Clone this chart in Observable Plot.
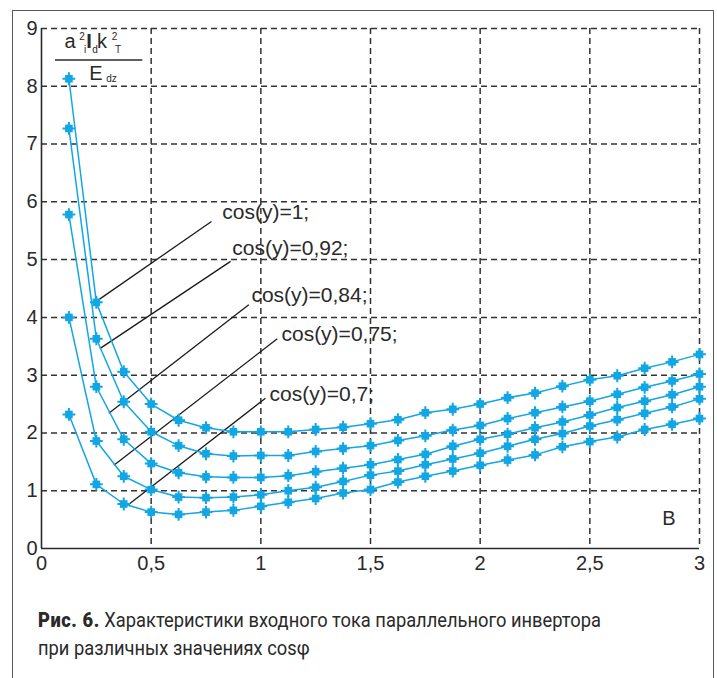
<!DOCTYPE html>
<html>
<head>
<meta charset="utf-8">
<script src="https://cdn.jsdelivr.net/npm/d3@7"></script>
<script src="https://cdn.jsdelivr.net/npm/@observablehq/plot@0.6"></script>
<style>
  html, body { margin: 0; padding: 0; background: #fff; width: 717px; height: 678px; overflow: hidden; }
  #frame { position: absolute; left: 12px; top: 10px; width: 702px; height: 720px; border: 1.5px solid #5a5a5a; box-sizing: border-box; }
  #chart { position: absolute; left: 0; top: 0; }
  #caption { position: absolute; left: 38px; top: 606px; font-family: "Roboto", "Liberation Sans", sans-serif; font-size: 20px; line-height: 28px; color: #2a2a2a; white-space: nowrap; transform: scaleX(0.915); transform-origin: 0 0; }
  #caption b { font-weight: 900; letter-spacing: 0.6px; }
</style>
</head>
<body>
<div id="frame"></div>
<div id="chart"></div>
<div id="caption"><b>Рис. 6.</b> Характеристики входного тока параллельного инвертора<br>при различных значениях cosφ</div>
<script>
// ---- data ----
const xs = [0.125, 0.25, 0.375, 0.5, 0.625, 0.75, 0.875, 1.0, 1.125, 1.25, 1.375, 1.5,
            1.625, 1.75, 1.875, 2.0, 2.125, 2.25, 2.375, 2.5, 2.625, 2.75, 2.875, 3.0];
const seriesNames = ["cos(y)=1;", "cos(y)=0,92;", "cos(y)=0,84;", "cos(y)=0,75;", "cos(y)=0,7;"];
const s1 = [8.13, 4.26, 3.06, 2.50, 2.22, 2.09, 2.02, 2.02, 2.02, 2.06, 2.10, 2.16,
            2.23, 2.35, 2.41, 2.50, 2.61, 2.69, 2.81, 2.92, 2.99, 3.12, 3.23, 3.36];
const s2 = [7.27, 3.63, 2.54, 2.02, 1.78, 1.64, 1.60, 1.61, 1.61, 1.68, 1.73, 1.78,
            1.87, 1.95, 2.05, 2.13, 2.25, 2.35, 2.45, 2.55, 2.67, 2.79, 2.90, 3.02];
const s3 = [5.78, 2.80, 1.89, 1.47, 1.31, 1.24, 1.23, 1.23, 1.26, 1.33, 1.39, 1.45,
            1.54, 1.63, 1.77, 1.89, 1.98, 2.09, 2.19, 2.31, 2.44, 2.55, 2.66, 2.80];
const s4 = [4.00, 1.86, 1.25, 1.02, 0.89, 0.88, 0.89, 0.93, 1.00, 1.06, 1.16, 1.27,
            1.34, 1.45, 1.55, 1.65, 1.77, 1.89, 1.99, 2.12, 2.23, 2.34, 2.45, 2.59];
const s5 = [2.32, 1.11, 0.77, 0.63, 0.59, 0.63, 0.66, 0.73, 0.80, 0.865, 0.96, 1.02,
            1.15, 1.25, 1.34, 1.44, 1.53, 1.62, 1.76, 1.85, 1.93, 2.06, 2.15, 2.25];
const xTicks = [0, 0.5, 1, 1.5, 2, 2.5, 3];
const xTickLabels = ["0", "0,5", "1", "1,5", "2", "2,5", "3"];
const yTicks = [0, 1, 2, 3, 4, 5, 6, 7, 8, 9];
const yTickLabels = ["0", "1", "2", "3", "4", "5", "6", "7", "8", "9"];
// label positions (data units) and leader lines
const labelX = [0.824, 0.870, 0.957, 1.094, 1.040];
const labelY = [5.82, 5.19, 4.39, 3.70, 2.67];
const leadX1 = [0.775, 0.862, 0.945, 1.075, 1.021];
const leadY1 = [5.66, 4.97, 4.22, 3.63, 2.60];
const leadX2 = [0.255, 0.266, 0.307, 0.330, 0.397];
const leadY2 = [4.29, 3.46, 2.34, 1.44, 0.76];
const unitLabel = "В";

// ---- build tables ----
const allSeries = [s1, s2, s3, s4, s5];
const pts = [];
allSeries.forEach((s, k) => s.forEach((v, i) => pts.push({x: xs[i], y: v, name: seriesNames[k]})));
const labels = seriesNames.map((n, i) => ({name: n, x: labelX[i], y: labelY[i]}));
const leaders = seriesNames.map((n, i) => ({x1: leadX1[i], y1: leadY1[i], x2: leadX2[i], y2: leadY2[i]}));

const blue = "#12a6e4";
const ink = "#2a2a2a";
const grid = "#333333";
const fmtX = d => xTickLabels[xTicks.indexOf(d)];
const fmtY = d => yTickLabels[yTicks.indexOf(d)];

const chart = Plot.plot({
  width: 717,
  height: 585,
  marginLeft: 41,
  marginRight: 18,
  marginTop: 28,
  marginBottom: 37,
  style: {fontFamily: "'Liberation Sans', Arial, sans-serif", color: ink, background: "transparent"},
  x: {domain: [0, 3]},
  y: {domain: [0, 9]},
  marks: [
    Plot.gridX(xTicks.filter(d => d > 0), {stroke: grid, strokeOpacity: 1, strokeWidth: 1.5, strokeDasharray: "6,4"}),
    Plot.gridY(yTicks.filter(d => d > 0), {stroke: grid, strokeOpacity: 1, strokeWidth: 1.5, strokeDasharray: "6,4"}),
    Plot.ruleX([0], {stroke: ink, strokeWidth: 1.6}),
    Plot.ruleY([0], {stroke: ink, strokeWidth: 1.6}),
    Plot.axisX(xTicks, {tickSize: 0, tickPadding: 7, fontSize: 20, tickFormat: fmtX, fill: ink}),
    Plot.axisY(yTicks, {tickSize: 0, tickPadding: 4, fontSize: 20, tickFormat: fmtY, fill: ink}),
    Plot.link(leaders, {x1: "x1", y1: "y1", x2: "x2", y2: "y2", stroke: "#1a1a1a", strokeWidth: 1.3}),
    Plot.line(pts, {x: "x", y: "y", z: "name", stroke: blue, strokeWidth: 1.5}),
    Plot.dot(pts, {x: "x", y: "y", symbol: "square", r: 4.3, fill: blue, stroke: "none"}),
    Plot.dot(pts, {x: "x", y: "y", symbol: "plus", r: 4.2, stroke: blue, strokeWidth: 2}),
    Plot.text(labels, {x: "x", y: "y", text: "name", textAnchor: "start", lineAnchor: "middle", fontSize: 21, fill: ink}),
    Plot.text([unitLabel], {x: [2.83], y: [0.51], text: d => d, textAnchor: "start", lineAnchor: "middle", fontSize: 20, fill: ink})
  ]
});
document.getElementById("chart").appendChild(chart);

// ---- y-axis quantity label (fraction) ----
const sx = chart.scale("x"), sy = chart.scale("y");
const fracX = [0.0638, 0.462], fracY = 8.446;
const px0 = sx.apply(fracX[0]), px1 = sx.apply(fracX[1]), py0 = sy.apply(fracY);
const svg = d3.select(chart);
const g = svg.append("g").attr("font-family", "'Liberation Sans', Arial, sans-serif").attr("fill", ink);
g.append("line").attr("x1", px0).attr("x2", px1).attr("y1", py0).attr("y2", py0)
  .attr("stroke", ink).attr("stroke-width", 1.5);
const pieces = [
  {t: "a", dx: 15, dy: -11.7, fs: 20},
  {t: "2", dx: 27, dy: -20, fs: 10},
  {t: "i", dx: 30, dy: -7, fs: 10},
  {t: "I", dx: 34, dy: -11.7, fs: 20, w: "bold"},
  {t: "d", dx: 40, dy: -7, fs: 10},
  {t: "k", dx: 47, dy: -11.7, fs: 20},
  {t: "2", dx: 59.5, dy: -20, fs: 10},
  {t: "T", dx: 63, dy: -7, fs: 10},
  {t: "E", dx: 41, dy: 20, fs: 20},
  {t: "dz", dx: 56.5, dy: 22, fs: 10}
];
pieces.forEach(p => {
  g.append("text").attr("x", px0 + p.dx).attr("y", py0 + p.dy)
    .attr("font-size", p.fs).attr("font-weight", p.w || "normal").text(p.t);
});
</script>
</body>
</html>
